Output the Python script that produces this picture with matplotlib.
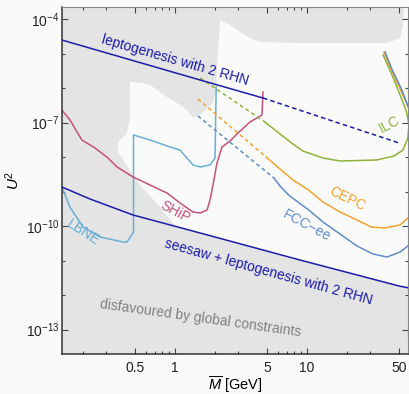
import numpy as np
import matplotlib
matplotlib.use('Agg')
import matplotlib.pyplot as plt
from matplotlib.ticker import FixedLocator, FixedFormatter, NullFormatter

plt.rcParams['font.family'] = ['Liberation Sans', 'DejaVu Sans']
plt.rcParams['mathtext.fontset'] = 'custom'
plt.rcParams['mathtext.rm'] = 'Liberation Sans'
plt.rcParams['mathtext.it'] = 'Liberation Sans:italic'

# --- data: mass M in GeV, log10(U^2) ---
# region not excluded by global constraints (white area)
allowed_M = [0.456, 0.572, 0.647, 0.770, 0.870, 1.035, 1.23, 1.37, 1.55, 1.94, 2.05, 2.08,
             2.19, 2.61, 3.11, 3.70, 4.40, 8.85, 40.4, 50.7, 53.4, 54.3, 72, 72,
             49.8, 8.85, 1.55, 1.0, 0.983, 0.770, 0.543, 0.370, 0.370, 0.433, 0.456]
allowed_logU = [-5.826, -5.855, -5.913, -6.116, -6.261, -6.435, -6.638, -6.870, -6.783, -6.435, -5.971, -5.391,
                -4.029, -4.174, -4.377, -4.551, -4.667, -4.696, -4.696, -4.551, -4.174, -3.5, -3.5, -11.83,
                -11.739, -10.986, -10.203, -10.0, -9.942, -9.449, -8.812, -7.855, -7.565, -7.304, -6.841]

# leptogenesis with 2 RHN, upper bound (solid then dashed)
lepto_M = [0.139, 1.55, 4.64]
lepto_logU = [-4.609, -5.768, -6.290]
lepto_dash_M = [4.64, 49.8]
lepto_dash_logU = [-6.290, -7.594]

# seesaw + leptogenesis lower bound
seesaw_M = [0.139, 0.227, 0.481, 1.55, 8.85, 49.8, 59.3]
seesaw_logU = [-8.870, -9.217, -9.681, -10.203, -10.986, -11.739, -11.797]

# LBNE
lbne_M = [0.139, 0.160, 0.201, 0.270, 0.404, 0.433, 0.485, 0.485, 0.485, 0.647, 0.917,
          1.09, 1.23, 1.37, 1.55, 1.84, 2.01, 2.05]
lbne_logU = [-8.870, -9.449, -10.029, -10.319, -10.464, -10.464, -10.174, -8.957, -7.362, -7.507, -7.710,
             -7.797, -8.029, -8.232, -8.290, -8.232, -8.029, -5.971]

# SHiP
ship_M = [0.139, 0.160, 0.197, 0.248, 0.311, 0.364, 0.481, 0.647, 0.870, 1.09, 1.37, 1.55,
          1.75, 1.84, 1.94, 2.08, 2.27, 2.61, 3.00, 3.70, 4.56, 4.64]
ship_logU = [-6.638, -6.928, -7.507, -7.739, -8.029, -8.290, -8.580, -8.812, -9.043, -9.333, -9.594, -9.623,
             -9.536, -9.246, -8.812, -8.174, -7.710, -7.536, -7.304, -6.986, -6.783, -6.116]

# ILC
ilc_dash_M = [1.55, 4.80]
ilc_dash_logU = [-5.710, -6.986]
ilc_M = [4.80, 6.24, 7.83, 9.3, 13.2, 17.8, 33.6, 45.6, 53.4, 58.0, 59.3, 56.5, 50.7, 44.0, 37.7]
ilc_logU = [-6.986, -7.333, -7.623, -7.826, -8.029, -8.116, -8.087, -7.971, -7.797, -7.449, -7.072,
            -6.667, -6.203, -5.623, -5.043]

# CEPC
cepc_dash_M = [1.49, 4.90]
cepc_dash_logU = [-6.319, -8.0]
cepc_M = [4.90, 6.24, 7.83, 10.3, 13.2, 17.8, 23.9, 30.7, 38.6, 50.7, 59.3, 66, 69, 65, 58, 50.7, 43.5, 38.2]
cepc_logU = [-8.0, -8.348, -8.667, -8.957, -9.304, -9.594, -9.826, -10.029, -10.058, -9.971, -9.739,
             -8.957, -7.797, -7.072, -6.522, -6.029, -5.478, -4.957]

# FCC-ee
fcc_dash_M = [1.49, 5.62]
fcc_dash_logU = [-6.812, -8.609]
fcc_M = [5.62, 6.24, 7.4, 10.3, 13.2, 17.8, 23.9, 31.6, 40.4, 50.7, 59.3, 69, 72, 67, 57.3, 51.5, 44.2, 39.0]
fcc_logU = [-8.609, -8.841, -9.130, -9.536, -9.884, -10.232, -10.580, -10.812, -10.899, -10.754, -10.551,
            -9.681, -8.087, -7.072, -6.464, -6.0, -5.478, -4.957]

fig = plt.figure(figsize=(4.09, 3.94), dpi=100, facecolor='#fafafa')
ax = fig.add_axes([62 / 409, 40 / 394, 346 / 409, 347 / 394])
ax.set_xscale('log')
ax.set_yscale('log')
ax.set_facecolor('#e4e4e4')

U = lambda v: 10.0 ** np.asarray(v)

ax.fill(allowed_M, U(allowed_logU), color='#fafafa', lw=0, zorder=1)

navy = '#1c1cac'
lw = 1.1
ax.plot(lepto_M, U(lepto_logU), color=navy, lw=lw, zorder=3)
ax.plot(lepto_dash_M, U(lepto_dash_logU), color=navy, lw=lw, ls=(0, (3, 2)), zorder=3)
ax.plot(seesaw_M, U(seesaw_logU), color=navy, lw=lw, zorder=3)

ax.plot(lbne_M, U(lbne_logU), color='#6aaed6', lw=lw, zorder=2)
ax.plot(ship_M, U(ship_logU), color='#c8507a', lw=lw, zorder=2)

dash = (0, (2.5, 2))
ax.plot(ilc_dash_M, U(ilc_dash_logU), color='#8fb33a', lw=lw, ls=dash, zorder=2)
ax.plot(ilc_M, U(ilc_logU), color='#8fb33a', lw=lw, zorder=2)
ax.plot(cepc_dash_M, U(cepc_dash_logU), color='#f2a22e', lw=lw, ls=dash, zorder=2)
ax.plot(cepc_M, U(cepc_logU), color='#f2a22e', lw=lw, zorder=2)
ax.plot(fcc_dash_M, U(fcc_dash_logU), color='#5f8cc8', lw=lw, ls=dash, zorder=2)
ax.plot(fcc_M, U(fcc_logU), color='#5f8cc8', lw=lw, zorder=2)

ax.set_xlim(0.1393, 58.2)
ax.set_ylim(10 ** -13.71, 10 ** -3.652)

# labels
kw = dict(ha='center', va='center', fontsize=10, zorder=4)
ax.text(1.0, 6.5e-6, 'leptogenesis with 2 RHN', color=navy, rotation=-16, **kw)
ax.text(5.06, 4.64e-12, 'seesaw + leptogenesis with 2 RHN', color=navy, rotation=-15.5, **kw)
ax.text(1.57, 2.15e-13, 'disfavoured by global constraints', color='#808080', rotation=-8, **kw)
ax.text(0.201, 6.27e-11, 'LBNE', color='#6aaed6', rotation=-33, **kw)
ax.text(1.0, 2.55e-10, 'SHiP', color='#c8507a', rotation=-28, **kw)
ax.text(10.0, 1.0e-10, 'FCC\u2212ee', color='#5f8cc8', rotation=-28, **kw)
ax.text(20.1, 6.07e-10, 'CEPC', color='#f2a22e', rotation=-26, **kw)
ax.text(41.8, 9.06e-8, 'ILC', color='#8fb33a', rotation=28, **kw)

# ticks
ax.xaxis.set_major_locator(FixedLocator([0.5, 1, 5, 10, 50]))
ax.xaxis.set_major_formatter(FixedFormatter(['0.5', '1', '5', '10', '50']))
ax.xaxis.set_minor_locator(FixedLocator([0.2, 0.3, 0.6, 0.7, 0.8, 0.9, 2, 3, 6, 7, 8, 9, 20, 30]))
ax.xaxis.set_minor_formatter(NullFormatter())
ax.yaxis.set_major_locator(FixedLocator([1e-13, 1e-10, 1e-7, 1e-4]))
ax.yaxis.set_major_formatter(FixedFormatter([r'$10^{-13}$', r'$10^{-10}$', r'$10^{-7}$', r'$10^{-4}$']))
ax.yaxis.set_minor_locator(FixedLocator([1e-12, 1e-11, 1e-9, 1e-8, 1e-6, 1e-5]))
ax.yaxis.set_minor_formatter(NullFormatter())
ax.tick_params(which='both', direction='in', top=True, right=True, color='#444444',
               width=0.8, labelsize=10, labelcolor='#222222')
ax.tick_params(which='major', length=4)
ax.tick_params(which='minor', length=2)
ax.tick_params(axis='y', pad=2)
ax.tick_params(axis='x', pad=5)

for side in ['left', 'bottom']:
    ax.spines[side].set_color('#333333')
    ax.spines[side].set_linewidth(1.1)
for side in ['top', 'right']:
    ax.spines[side].set_color('#888888')
    ax.spines[side].set_linewidth(0.8)

ax.set_ylabel(r'$U^2$', fontsize=11)
ax.yaxis.set_label_coords(-0.115, 0.5)
ax.set_xlabel(r'$\overline{M}$ [GeV]', fontsize=10.5)
ax.xaxis.set_label_coords(0.5, -0.06)

fig.savefig('out.png', dpi=100, facecolor=fig.get_facecolor())
